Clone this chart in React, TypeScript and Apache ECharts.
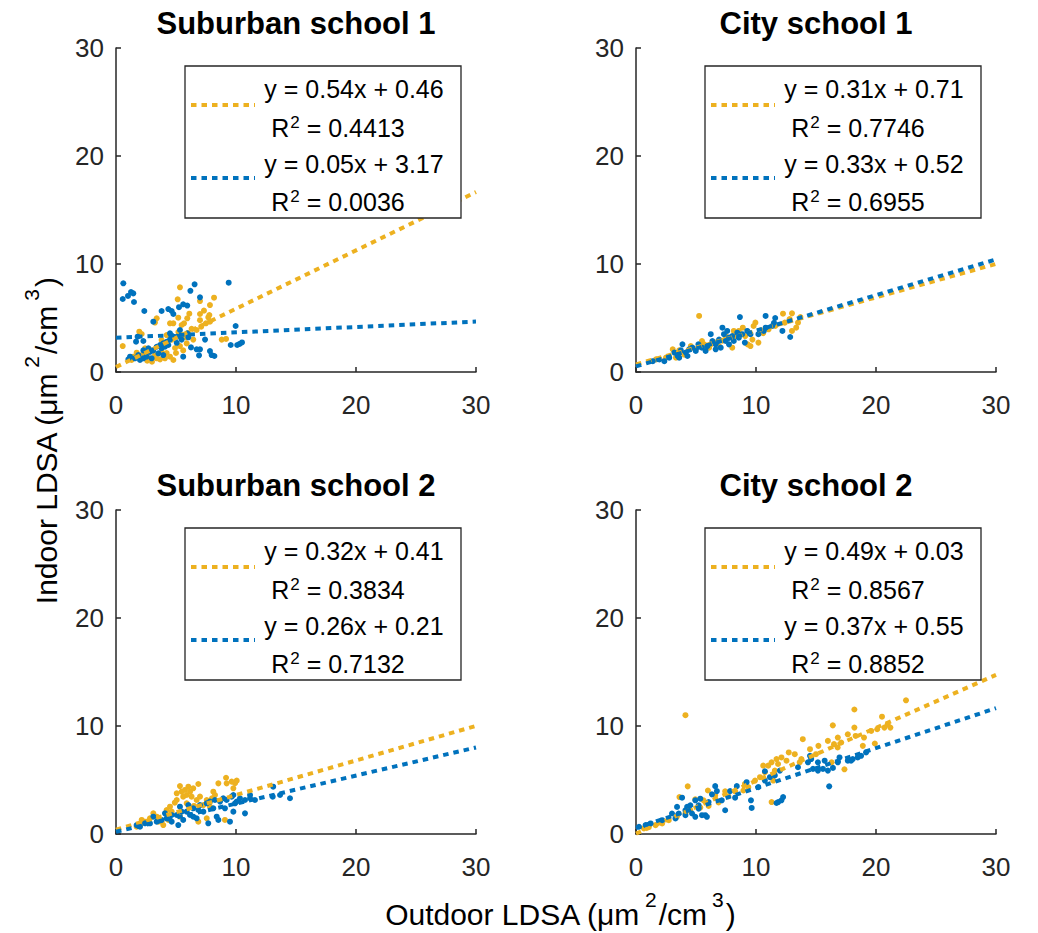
import React, { useEffect, useRef } from 'react';
import * as echarts from 'echarts';

const YELLOW = '#EDB120';
const BLUE = '#0072BD';
const AXIS = '#262626';
const FONT = '"Liberation Sans", Arial, Helvetica, sans-serif';

const titles = ['Suburban school 1', 'City school 1', 'Suburban school 2', 'City school 2'];
const axisMin = 0;
const axisMax = 30;
const axisStep = 10;

const yellowSlopes = [0.54, 0.31, 0.32, 0.49];
const yellowIntercepts = [0.46, 0.71, 0.41, 0.03];
const yellowR2 = ['0.4413', '0.7746', '0.3834', '0.8567'];
const blueSlopes = [0.05, 0.33, 0.26, 0.37];
const blueIntercepts = [3.17, 0.52, 0.21, 0.55];
const blueR2 = ['0.0036', '0.6955', '0.7132', '0.8852'];

const suburban1Yellow = [
  [5.33, 7.84], [5.14, 6.73], [7.0, 6.57], [8.17, 6.88], [7.83, 6.2], [7.33, 5.68], [7.0, 5.37], [7.69, 5.06],
  [7.83, 4.66], [7.5, 4.51], [7.78, 5.28], [6.11, 5.4], [5.94, 4.97], [5.67, 4.51], [5.47, 4.35], [5.19, 5.03],
  [4.78, 4.51], [4.5, 4.51], [3.39, 4.97], [3.25, 4.58], [1.94, 3.73], [2.14, 3.52], [0.56, 2.4], [8.81, 3.0],
  [9.17, 3.06], [6.3, 4.0], [5.83, 3.21], [5.47, 3.42], [4.64, 3.0], [4.92, 2.22], [5.0, 1.76], [5.33, 2.4],
  [4.22, 1.76], [4.5, 1.42], [4.08, 1.27], [3.67, 1.17], [3.39, 1.27], [3.25, 1.57], [2.83, 1.27], [2.56, 1.73],
  [2.14, 1.57], [1.72, 1.79], [1.44, 1.42], [1.3, 1.11], [2.42, 2.2], [2.97, 2.0], [3.8, 1.88], [4.78, 1.11],
  [5.89, 2.65], [6.44, 3.0], [6.72, 3.89], [7.1, 4.2], [4.22, 3.42], [3.8, 2.96], [5.6, 2.0], [7.0, 4.8],
  [2.6, 1.05], [3.0, 0.95], [5.2, 3.7], [6.0, 3.6],
];
const suburban1Blue = [
  [0.61, 8.21], [0.56, 6.76], [1.0, 7.04], [1.25, 7.4], [1.44, 7.28], [1.5, 6.48], [2.36, 5.65], [3.8, 5.65],
  [4.36, 5.83], [4.64, 5.65], [4.78, 5.37], [5.25, 6.0], [5.6, 6.27], [5.94, 6.15], [6.2, 7.52], [6.55, 8.12],
  [7.0, 6.91], [9.39, 8.27], [9.97, 4.26], [9.56, 2.5], [10.1, 2.5], [10.3, 2.6], [10.5, 2.74], [7.42, 3.0],
  [7.83, 1.94], [8.2, 1.48], [7.97, 1.57], [6.92, 1.54], [6.25, 2.28], [6.72, 2.1], [7.0, 2.1], [5.6, 1.42],
  [1.8, 3.27], [1.67, 2.81], [1.17, 1.42], [1.03, 1.17], [5.33, 3.89], [5.1, 3.27], [5.94, 3.58], [6.03, 3.21],
  [3.11, 4.66], [2.28, 2.0], [2.7, 2.2], [2.83, 1.85], [3.1, 2.0], [3.39, 2.34], [3.67, 2.5], [3.8, 2.2],
  [3.94, 2.65], [4.08, 2.34], [4.22, 2.8], [4.36, 2.5], [3.53, 1.73], [2.97, 1.27], [2.28, 1.27], [1.86, 1.57],
  [1.58, 1.27], [2.56, 1.42], [2.0, 1.11], [3.94, 1.57], [4.5, 3.0], [4.78, 3.27], [5.47, 3.0], [5.06, 2.7],
  [2.28, 2.87], [4.5, 3.58],
];

const city1Yellow = [
  [5.26, 5.19], [12.25, 5.4], [13.0, 5.43], [13.7, 5.09], [13.5, 4.57], [13.35, 4.1], [13.0, 3.8], [9.8, 4.26],
  [9.95, 4.57], [9.3, 2.56], [10.2, 2.72], [9.7, 3.0], [3.06, 2.1], [3.33, 1.33], [4.02, 1.6], [4.57, 2.4],
  [5.67, 2.56], [6.09, 2.25], [6.64, 2.72], [6.92, 2.4], [7.47, 3.33], [8.15, 3.8], [8.3, 3.33], [8.57, 3.8],
  [8.9, 4.1], [9.1, 3.33], [8.02, 2.25], [5.5, 2.87], [4.98, 2.1], [2.5, 1.33], [1.67, 1.17], [3.6, 2.0],
  [11.6, 4.26], [11.05, 3.95], [12.4, 4.57], [9.54, 2.4], [7.2, 2.9], [6.3, 2.6], [10.6, 3.6], [12.8, 4.9],
];
const city1Blue = [
  [8.66, 5.09], [10.8, 5.19], [11.6, 5.0], [11.5, 4.55], [12.2, 3.8], [12.85, 3.24], [10.8, 4.1], [11.35, 4.26],
  [1.95, 1.17], [2.36, 1.0], [2.77, 1.33], [3.2, 1.8], [3.47, 1.48], [3.74, 2.0], [3.87, 2.56], [4.15, 1.8],
  [4.43, 2.1], [4.7, 2.25], [5.2, 2.56], [5.5, 2.25], [5.95, 2.4], [6.23, 3.5], [6.37, 2.87], [6.64, 2.56],
  [6.92, 3.0], [7.2, 4.1], [7.33, 3.5], [7.47, 2.87], [7.6, 3.8], [7.75, 2.56], [8.02, 3.33], [8.15, 2.87],
  [8.44, 3.64], [8.57, 3.18], [8.85, 3.5], [9.07, 2.72], [9.27, 3.8], [9.54, 3.5], [7.06, 2.25], [6.64, 2.1],
  [5.8, 1.95], [4.98, 1.95], [4.29, 1.48], [3.6, 1.33], [10.2, 3.5], [10.65, 3.8], [1.4, 1.0], [7.75, 3.18],
];

const suburban2Yellow = [
  [9.17, 5.21], [9.92, 4.7], [10.06, 4.94], [9.78, 4.23], [6.86, 4.63], [6.44, 4.23], [6.17, 3.92], [6.03, 4.38],
  [5.33, 4.44], [5.47, 3.92], [5.06, 3.77], [5.6, 3.46], [6.72, 3.15], [7.0, 3.46], [8.11, 3.92], [8.25, 3.61],
  [8.53, 4.69], [9.22, 4.69], [7.28, 2.68], [6.86, 1.14], [7.56, 1.45], [9.08, 1.3], [5.89, 2.84], [4.5, 2.53],
  [4.64, 2.07], [4.22, 2.22], [3.11, 1.91], [3.39, 1.6], [2.83, 1.45], [3.8, 1.14], [3.94, 0.83], [2.14, 1.3],
  [2.42, 1.14], [2.0, 0.83], [4.36, 1.3], [5.33, 1.6], [5.89, 3.61], [5.06, 3.15], [5.75, 4.08], [6.3, 3.46],
  [9.64, 4.85], [7.56, 3.15], [7.83, 2.53], [3.53, 1.14], [1.72, 0.68], [4.9, 2.9], [6.5, 2.6], [8.0, 3.3],
];
const suburban2Blue = [
  [1.72, 0.83], [2.0, 0.68], [2.83, 0.99], [3.39, 1.14], [3.8, 1.3], [4.22, 1.45], [4.64, 1.14], [5.19, 0.83],
  [5.06, 1.76], [5.47, 2.07], [5.89, 2.07], [6.17, 1.76], [6.44, 2.38], [6.86, 2.22], [7.0, 2.68], [7.28, 2.07],
  [7.56, 2.84], [7.83, 3.0], [8.25, 3.15], [8.67, 3.0], [8.94, 3.31], [9.22, 3.15], [9.64, 3.46], [9.78, 3.61],
  [10.06, 3.0], [10.33, 3.31], [10.75, 3.15], [11.17, 3.31], [11.58, 3.15], [11.17, 3.61], [7.69, 0.99], [8.53, 1.3],
  [8.39, 1.6], [9.5, 1.14], [9.78, 2.07], [10.75, 1.91], [13.1, 4.38], [13.06, 3.46], [13.67, 3.61], [14.5, 3.31],
  [5.6, 1.3], [6.03, 2.68], [5.33, 2.53], [4.64, 1.76], [4.08, 1.91], [3.11, 1.6], [2.42, 0.99], [6.72, 1.45],
  [8.11, 2.38], [9.08, 2.38], [9.92, 2.84], [6.44, 1.6],
];

const city2Yellow = [
  [4.12, 11.0], [4.31, 4.41], [3.62, 3.42], [5.99, 4.03], [22.5, 12.38], [18.2, 11.53], [20.5, 10.86], [16.4, 10.06],
  [17.65, 9.23], [16.82, 8.93], [18.2, 9.85], [18.3, 9.08], [19.0, 8.93], [19.6, 9.54], [20.1, 9.7], [20.7, 9.85],
  [21.2, 9.85], [20.97, 10.15], [18.9, 8.16], [19.9, 8.38], [15.99, 8.62], [16.5, 8.32], [16.8, 8.01], [17.1, 8.47],
  [15.2, 8.16], [15.0, 7.39], [14.5, 7.85], [14.6, 7.08], [13.9, 8.78], [12.73, 7.55], [13.23, 7.39], [12.54, 6.79],
  [12.12, 7.09], [11.71, 6.94], [11.84, 6.48], [11.3, 6.64], [11.02, 6.33], [10.6, 6.33], [11.57, 5.87], [11.44, 4.95],
  [11.3, 2.96], [13.64, 6.64], [13.78, 6.94], [17.37, 5.99], [16.3, 6.64], [9.92, 4.95], [9.36, 4.34], [8.95, 4.03],
  [9.08, 4.65], [7.7, 3.49], [8.26, 3.95], [7.43, 3.95], [6.88, 2.92], [6.05, 2.6], [5.36, 2.45], [4.94, 3.21],
  [2.73, 1.28], [2.18, 0.97], [1.63, 0.82], [1.08, 0.67], [0.66, 0.52], [3.4, 1.59], [4.12, 1.9], [4.53, 2.2],
  [5.63, 3.12], [6.6, 3.58], [10.33, 5.26], [10.74, 5.72],
];
const city2Blue = [
  [3.84, 3.36], [3.42, 2.51], [3.0, 1.9], [4.12, 2.2], [4.53, 2.66], [4.94, 3.12], [5.22, 2.35], [5.36, 3.27],
  [5.77, 1.74], [6.6, 4.43], [6.74, 3.97], [6.33, 3.67], [7.43, 2.2], [7.15, 3.12], [7.84, 3.97], [8.26, 3.36],
  [8.4, 4.43], [9.58, 3.12], [9.64, 2.41], [9.22, 4.8], [10.19, 4.34], [10.74, 5.81], [11.16, 5.26], [11.57, 5.42],
  [11.99, 5.87], [12.26, 3.42], [12.12, 3.12], [11.85, 2.96], [11.71, 2.87], [13.5, 6.18], [14.33, 6.64], [14.6, 6.94],
  [14.5, 7.24], [14.75, 6.03], [15.16, 5.87], [15.58, 6.03], [15.99, 5.87], [16.41, 6.12], [15.16, 6.64], [15.72, 6.79],
  [16.1, 4.41], [16.96, 7.09], [17.65, 6.79], [18.06, 6.94], [18.48, 7.09], [18.76, 7.24], [19.17, 7.55], [17.92, 6.79],
  [16.82, 6.64], [0.25, 0.67], [0.8, 0.83], [1.22, 0.98], [2.18, 1.28], [3.29, 1.44], [3.56, 1.9], [4.12, 1.74],
  [4.67, 1.9], [4.94, 1.59], [5.5, 1.74], [5.91, 1.59], [5.22, 2.66], [4.26, 2.51], [6.05, 2.96], [10.74, 4.95],
];

const yellowSets = [suburban1Yellow, city1Yellow, suburban2Yellow, city2Yellow];
const blueSets = [suburban1Blue, city1Blue, suburban2Blue, city2Blue];

const GRID_W = 360;
const GRID_H = 324;
const gridPos = [
  { left: 116, top: 48 },
  { left: 636, top: 48 },
  { left: 116, top: 510 },
  { left: 636, top: 510 },
];

const DASH = [5.5, 5];

function buildOption() {
  const grid: any[] = [];
  const xAxis: any[] = [];
  const yAxis: any[] = [];
  const series: any[] = [];
  const elements: any[] = [];

  const axisCommon = {
    type: 'value',
    min: axisMin,
    max: axisMax,
    interval: axisStep,
    splitLine: { show: false },
    axisLine: { show: true, onZero: false, lineStyle: { color: AXIS, width: 1.5 } },
    axisTick: { show: true, inside: true, length: 5, lineStyle: { color: AXIS, width: 1.5 } },
  };

  const mainTok = (size: number, lh: number) => ({ fontSize: size, fontFamily: FONT, fill: '#000', lineHeight: lh, verticalAlign: 'bottom' });
  const supTok = (size: number, pad: number[]) => ({ fontSize: size, fontFamily: FONT, fill: '#000', lineHeight: size, verticalAlign: 'top', padding: pad });

  gridPos.forEach((g, i) => {
    grid.push({ left: g.left, top: g.top, width: GRID_W, height: GRID_H, containLabel: false });
    xAxis.push({
      ...axisCommon,
      gridIndex: i,
      axisLabel: { color: AXIS, fontSize: 26, fontFamily: FONT, margin: 20 },
    });
    yAxis.push({
      ...axisCommon,
      gridIndex: i,
      axisLabel: { color: AXIS, fontSize: 26, fontFamily: FONT, margin: 12 },
    });
    series.push({
      type: 'scatter', xAxisIndex: i, yAxisIndex: i, data: yellowSets[i], symbolSize: 6,
      itemStyle: { color: YELLOW, opacity: 1 }, z: 2, silent: true,
    });
    series.push({
      type: 'scatter', xAxisIndex: i, yAxisIndex: i, data: blueSets[i], symbolSize: 6,
      itemStyle: { color: BLUE, opacity: 1 }, z: 3, silent: true,
    });
    const ya = yellowSlopes[i], yb = yellowIntercepts[i];
    const ba = blueSlopes[i], bb = blueIntercepts[i];
    series.push({
      type: 'line', xAxisIndex: i, yAxisIndex: i, showSymbol: false, symbol: 'none', silent: true, z: 4,
      data: [[axisMin, yb], [axisMax, ya * axisMax + yb]],
      lineStyle: { color: YELLOW, width: 4, type: DASH, cap: 'butt' },
    });
    series.push({
      type: 'line', xAxisIndex: i, yAxisIndex: i, showSymbol: false, symbol: 'none', silent: true, z: 5,
      data: [[axisMin, bb], [axisMax, ba * axisMax + bb]],
      lineStyle: { color: BLUE, width: 4, type: DASH, cap: 'butt' },
    });

    const L = g.left, T = g.top;
    elements.push({
      type: 'text', z: 100, x: L + GRID_W / 2, y: T - 25,
      style: { text: titles[i], fontSize: 31, fontWeight: 'bold', fontFamily: FONT, fill: '#000', align: 'center', verticalAlign: 'middle' },
    });
    elements.push({
      type: 'rect', z: 100, shape: { x: L + 69, y: T + 18, width: 276, height: 152 },
      style: { fill: '#fff', stroke: AXIS, lineWidth: 1.3 },
    });
    elements.push({
      type: 'line', z: 101, shape: { x1: L + 75, y1: T + 57, x2: L + 139, y2: T + 57 },
      style: { stroke: YELLOW, lineWidth: 4, lineDash: DASH },
    });
    elements.push({
      type: 'line', z: 101, shape: { x1: L + 75, y1: T + 130, x2: L + 139, y2: T + 130 },
      style: { stroke: BLUE, lineWidth: 4, lineDash: DASH },
    });
    const eq = (a: number, b: number) => `y = ${a.toFixed(2)}x + ${b.toFixed(2)}`;
    elements.push({
      type: 'text', z: 101, x: L + 238, y: T + 41,
      style: { text: eq(ya, yb), fontSize: 25, fontFamily: FONT, fill: '#000', align: 'center', verticalAlign: 'middle' },
    });
    elements.push({
      type: 'text', z: 101, x: L + 222, y: T + 79,
      style: {
        text: `{a|R}{s|2}{a| = ${yellowR2[i]}}`, align: 'center', verticalAlign: 'middle',
        rich: { a: mainTok(25, 27), s: supTok(17, [0, 0, 0, 1]) },
      },
    });
    elements.push({
      type: 'text', z: 101, x: L + 238, y: T + 116,
      style: { text: eq(ba, bb), fontSize: 25, fontFamily: FONT, fill: '#000', align: 'center', verticalAlign: 'middle' },
    });
    elements.push({
      type: 'text', z: 101, x: L + 222, y: T + 153,
      style: {
        text: `{a|R}{s|2}{a| = ${blueR2[i]}}`, align: 'center', verticalAlign: 'middle',
        rich: { a: mainTok(25, 27), s: supTok(17, [0, 0, 0, 1]) },
      },
    });
  });

  elements.push({
    type: 'text', z: 100, x: 560, y: 909,
    style: {
      text: '{a|Outdoor LDSA (μm}{s|2}{a|/cm}{s|3}{a|)}', align: 'center', verticalAlign: 'middle',
      rich: { a: mainTok(30, 41), s: supTok(21, [0, 2, 0, 5]) },
    },
  });
  elements.push({
    type: 'text', z: 100, x: 41, y: 441, rotation: Math.PI / 2,
    style: {
      text: '{a|Indoor LDSA (μm}{s|2}{a|/cm}{s|3}{a|)}', align: 'center', verticalAlign: 'middle',
      rich: { a: mainTok(30, 41), s: supTok(21, [0, 2, 0, 5]) },
    },
  });

  return {
    animation: false,
    backgroundColor: '#fff',
    grid, xAxis, yAxis, series,
    graphic: { elements },
  };
}

export default function App() {
  const ref = useRef<HTMLDivElement>(null);
  useEffect(() => {
    if (!ref.current) return;
    const chart = echarts.init(ref.current, undefined, { renderer: 'svg' });
    chart.setOption(buildOption() as any);
    return () => chart.dispose();
  }, []);
  return (
    <div
      ref={ref}
      style={{ position: 'fixed', left: 0, top: 0, width: 1038, height: 933, background: '#fff' }}
    />
  );
}
